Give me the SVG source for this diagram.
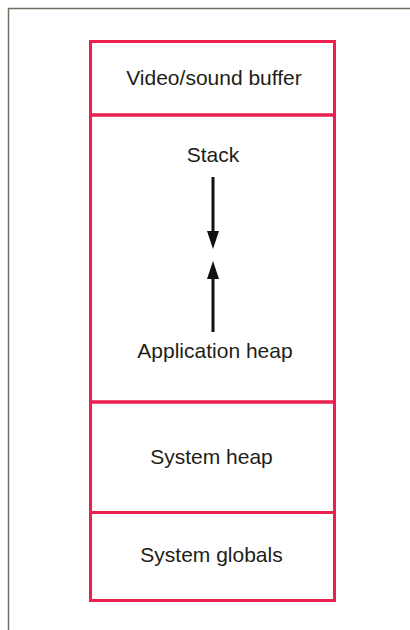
<svg xmlns="http://www.w3.org/2000/svg" width="410" height="630" viewBox="0 0 410 630">
<style>
.frame{fill:none;stroke:#6e6e62;stroke-width:1.5}
.box{fill:none;stroke:#ec1f4e;stroke-width:3}
.lbl{font-family:"Liberation Sans",Arial,sans-serif;font-size:21px;fill:#1e1e16;text-anchor:middle}
.arr{stroke:#111;stroke-width:3;fill:none}
</style>
<path class="frame" d="M8.5,630 V8.5 H410"/>
<g id="video-buffer">
<rect class="box" x="90.5" y="41.5" width="244" height="73.5"/>
<text class="lbl" x="214" y="85">Video/sound buffer</text>
</g>
<g id="app-area">
<rect class="box" x="90.5" y="115" width="244" height="287"/>
<text class="lbl" x="213" y="162">Stack</text>
<text class="lbl" x="215" y="358">Application heap</text>
</g>
<g id="system-heap">
<rect class="box" x="90.5" y="402" width="244" height="110.5"/>
<text class="lbl" x="211.5" y="464">System heap</text>
</g>
<g id="system-globals">
<rect class="box" x="90.5" y="512.5" width="244" height="88"/>
<text class="lbl" x="211.5" y="562">System globals</text>
</g>
<g id="connectors">
<path d="M213,177 V233" class="arr"/>
<path d="M207,231 L219,231 L213,249 Z" fill="#111"/>
<path d="M213,332 V278" class="arr"/>
<path d="M207,279 L219,279 L213,261 Z" fill="#111"/>
</g>
</svg>
